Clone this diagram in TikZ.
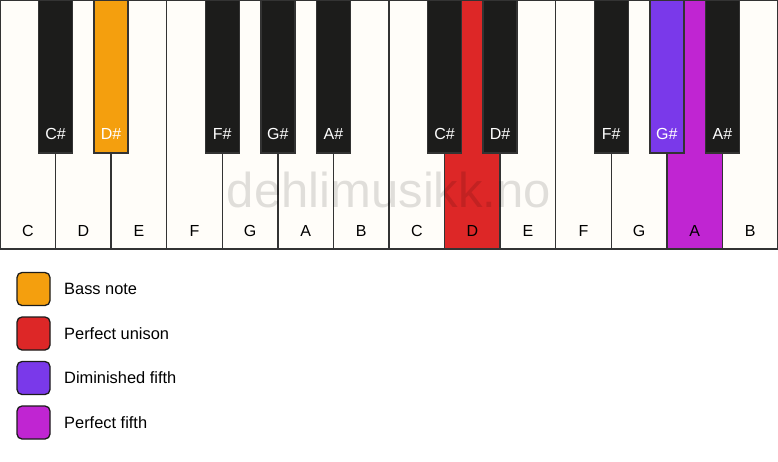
\documentclass[tikz,border=0pt]{standalone}
\usepackage{fontspec}
\setmainfont{Liberation Sans}
\usepackage{xcolor}
\usetikzlibrary{positioning,calc}

\definecolor{ivory}{HTML}{FFFDF9}
\definecolor{ebony}{HTML}{1C1C1B}
\definecolor{keyedge}{HTML}{333333}
\definecolor{bassnote}{HTML}{F49F0E}
\definecolor{unison}{HTML}{DD2727}
\definecolor{dimfifth}{HTML}{7A39EA}
\definecolor{perfifth}{HTML}{C025D2}

\tikzset{
  whitekey/.style={draw=keyedge,line width=1.3pt,minimum width=55.57pt,
    minimum height=249pt,inner sep=0pt,outer sep=0pt,anchor=north west},
  blackkey/.style={draw=keyedge,line width=1.3pt,minimum width=34pt,
    minimum height=153pt,inner sep=0pt,outer sep=0pt,anchor=north},
  keyname/.style={font=\fontsize{16}{16}\selectfont,anchor=base,inner sep=0pt},
  legendbox/.style={draw=ebony,line width=1.3pt,rounded corners=5pt,
    minimum width=33pt,minimum height=33pt,inner sep=0pt},
  legendtext/.style={font=\fontsize{16.4}{16}\selectfont,anchor=west,inner sep=0pt}
}

\begin{document}
\begin{tikzpicture}[x=1pt,y=-1pt]
\useasboundingbox (0,0) rectangle (778,461);
\fill[white] (0,0) rectangle (778,461);
% white keys
\foreach \name/\col [count=\i] in {C/ivory,D/ivory,E/ivory,F/ivory,G/ivory,
    A/ivory,B/ivory,C/ivory,D/unison,E/ivory,F/ivory,G/ivory,A/perfifth,B/ivory}
{
  \node (w\i) [whitekey,fill=\col] at ({(\i-1)*55.57},0) {};
  \path (w\i.south) ++(0,-13) node (wl\i) [keyname] {\name};
}
% watermark
\node (mark) at (389,190) [font=\fontsize{49}{49}\selectfont,text=black,
  text opacity=0.12] {dehlimusikk.no};
% black keys
\foreach \pos/\name/\col in {1/C\#/ebony,2/D\#/bassnote,4/F\#/ebony,5/G\#/ebony,
    6/A\#/ebony,8/C\#/ebony,9/D\#/ebony,11/F\#/ebony,12/G\#/dimfifth,13/A\#/ebony}
{
  \node (b\pos) [blackkey,fill=\col] at ({\pos*55.57},0) {};
  \path (b\pos.south) ++(0,-14) node (bl\pos) [keyname,text=white] {\name};
}
% legend
\node (bass) [legendbox,fill=bassnote] at (33.5,289) {};
\node (bassl) [legendtext] at (64,289) {Bass note};
\node (unis) [legendbox,fill=unison] at (33.5,333.5) {};
\node (unisl) [legendtext] at (64,333.5) {Perfect unison};
\node (dim) [legendbox,fill=dimfifth] at (33.5,378) {};
\node (diml) [legendtext] at (64,378) {Diminished fifth};
\node (perf) [legendbox,fill=perfifth] at (33.5,422.5) {};
\node (perfl) [legendtext] at (64,422.5) {Perfect fifth};
\end{tikzpicture}
\end{document}
